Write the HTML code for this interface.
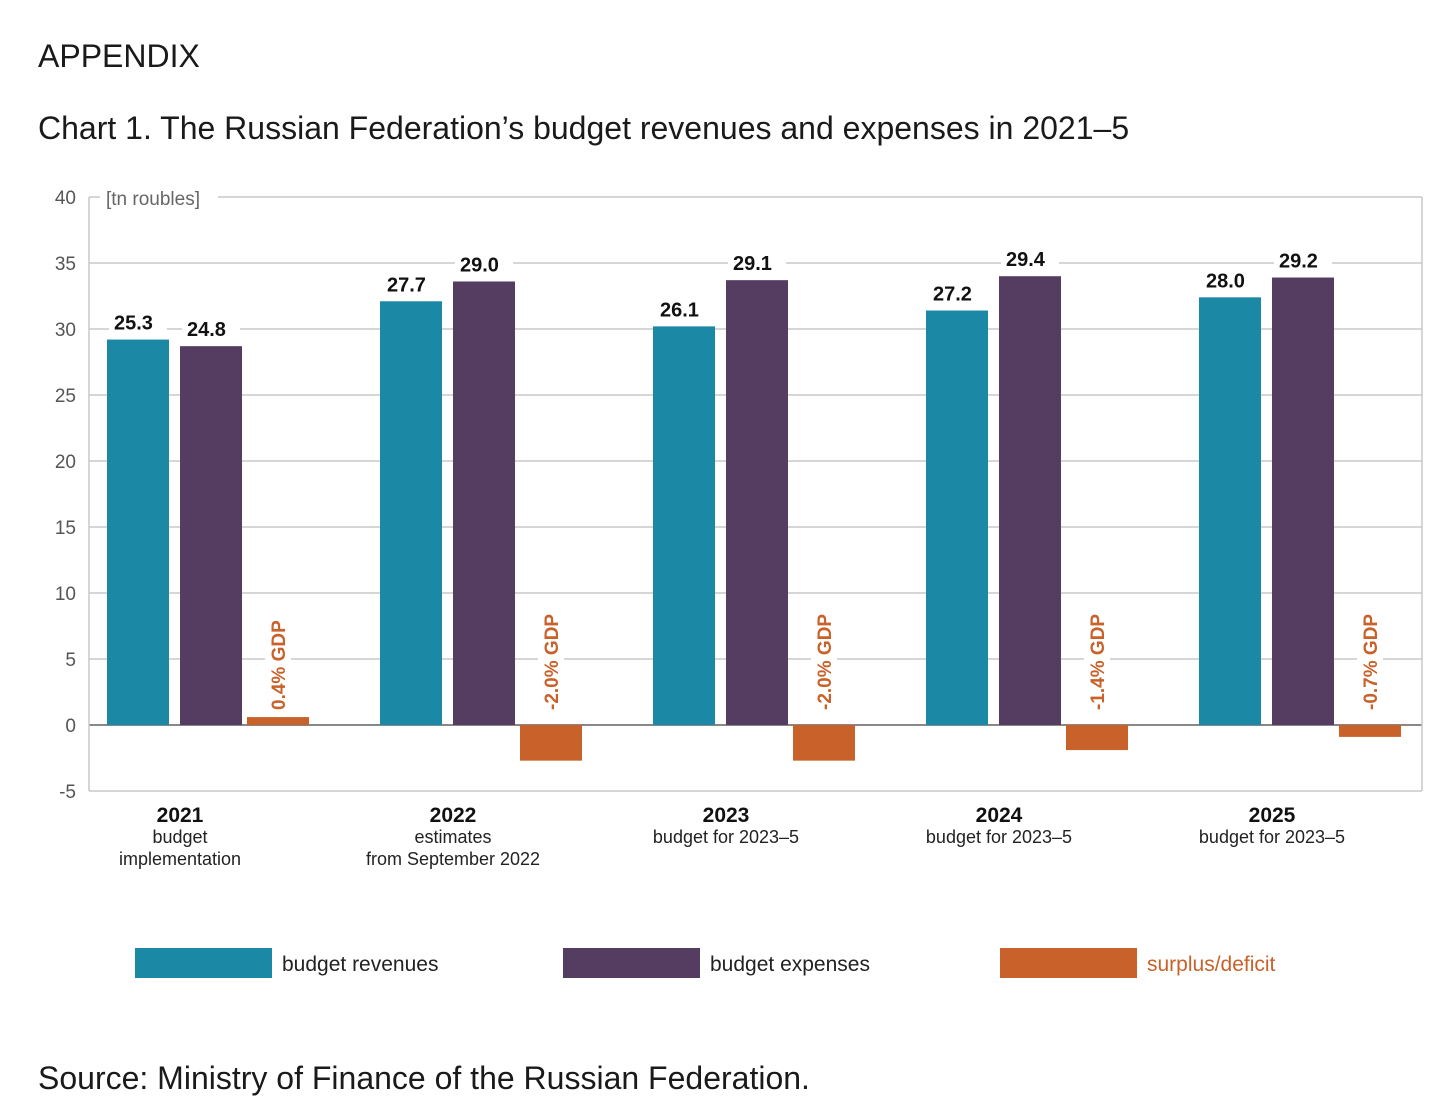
<!DOCTYPE html>
<html><head><meta charset="utf-8">
<style>
html,body{margin:0;padding:0;background:#fff;width:1456px;height:1109px;overflow:hidden}
.h{position:absolute;left:38px;font-family:"Liberation Sans",sans-serif;color:#1a1a1a}
</style></head>
<body>
<div class="h" style="top:38px;font-size:32px">APPENDIX</div>
<div class="h" style="top:110px;font-size:32px">Chart 1. The Russian Federation’s budget revenues and expenses in 2021–5</div>
<div class="h" style="top:1060px;font-size:32px">Source: Ministry of Finance of the Russian Federation.</div>
<svg id="chart" width="1456" height="1109" style="position:absolute;left:0;top:0" font-family="Liberation Sans, sans-serif"></svg>
<script>
const years=["2021","2022","2023","2024","2025"];
const subs=[["budget","implementation"],["estimates","from September 2022"],["budget for 2023–5"],["budget for 2023–5"],["budget for 2023–5"]];
const revenues=[29.2,32.1,30.2,31.4,32.4];
const expenses=[28.7,33.6,33.7,34.0,33.9];
const balance=[0.6,-2.7,-2.7,-1.9,-0.9];
const revLabels=["25.3","27.7","26.1","27.2","28.0"];
const expLabels=["24.8","29.0","29.1","29.4","29.2"];
const gdpLabels=["0.4% GDP","-2.0% GDP","-2.0% GDP","-1.4% GDP","-0.7% GDP"];
const yTicks=[40,35,30,25,20,15,10,5,0,-5];

const NS="http://www.w3.org/2000/svg";
const svg=document.getElementById('chart');
function el(t,a,txt){const e=document.createElementNS(NS,t);for(const k in a)e.setAttribute(k,a[k]);if(txt!==undefined)e.textContent=txt;svg.appendChild(e);return e;}
const y=v=>725-v*13.2;
const pc=i=>175+i*273;
const BW=62;
const C={rev:"#1b89a5",exp:"#553d62",def:"#c8622a",grid:"#c8c8c8",tick:"#555"};

// grid
yTicks.forEach(t=>{
  const g=el('line',{x1:89,x2:1422,y1:y(t),y2:y(t),stroke:t===0?"#888":C.grid,'stroke-width':t===0?2:1.5});
  
  
  const l=el('text',{x:76,y:y(t)+7,'text-anchor':'end','font-size':19,fill:C.tick},String(t));
  
  
});
const fr=el('line',{x1:89,x2:89,y1:y(40),y2:y(-5),stroke:C.grid,'stroke-width':1.5});


const fr2=el('line',{x1:1422,x2:1422,y1:y(40),y2:y(-5),stroke:C.grid,'stroke-width':1.5});


const ub=el('rect',{x:100,y:y(40)-12,width:118,height:24,fill:'#fff'});


const ut=el('text',{x:106,y:y(40)+8,'font-size':19,fill:'#666'},'[tn roubles]');



function valLabel(x,v,txt,name){
  const b=el('rect',{x:x+2,y:y(v)-30,width:58,height:22,fill:'#fff'});
  
  
  const t=el('text',{x:x+7,y:y(v)-10,'font-size':20,'font-weight':'bold',fill:'#111'},txt);
  
  
}
years.forEach((yr,i)=>{
  const c=pc(i);
  const rx=c-68, ex=c+5, dx=c+72;
  const r=el('rect',{x:rx,y:y(revenues[i]),width:BW,height:y(0)-y(revenues[i]),fill:C.rev});
  
  
  const e=el('rect',{x:ex,y:y(expenses[i]),width:BW,height:y(0)-y(expenses[i]),fill:C.exp});
  
  
  const v=balance[i];
  const d=el('rect',{x:dx,y:Math.min(y(v),y(0)),width:BW,height:Math.abs(y(v)-y(0)),fill:C.def});
  
  
  valLabel(rx,revenues[i],revLabels[i],'revenue-value-'+yr);
  valLabel(ex,expenses[i],expLabels[i],'expense-value-'+yr);
  const gx=dx+BW/2;
  const gb=el('rect',{x:gx-13,y:612,width:26,height:104,fill:'#fff'});
  
  
  const g=el('text',{x:gx+7,y:710,'font-size':19,'font-weight':'bold',fill:C.def,transform:`rotate(-90 ${gx+7} 710)`},gdpLabels[i]);
  
  
  const yl=el('text',{x:c+5,y:822,'text-anchor':'middle','font-size':21,'font-weight':'bold',fill:'#111'},yr);
  
  
  subs[i].forEach((s,k)=>{
    const sl=el('text',{x:c+5,y:843+k*22,'text-anchor':'middle','font-size':18,fill:'#222'},s);
    
    
  });
});
// legend
const leg=[["budget revenues",C.rev,135,"#222"],["budget expenses",C.exp,563,"#222"],["surplus/deficit",C.def,1000,C.def]];
leg.forEach(([t,col,x,tc])=>{
  const s=el('rect',{x:x,y:948,width:137,height:30,fill:col});
  
  
  const l=el('text',{x:x+147,y:971,'font-size':21,fill:tc},t);
  
  
});
</script>
</body></html>
